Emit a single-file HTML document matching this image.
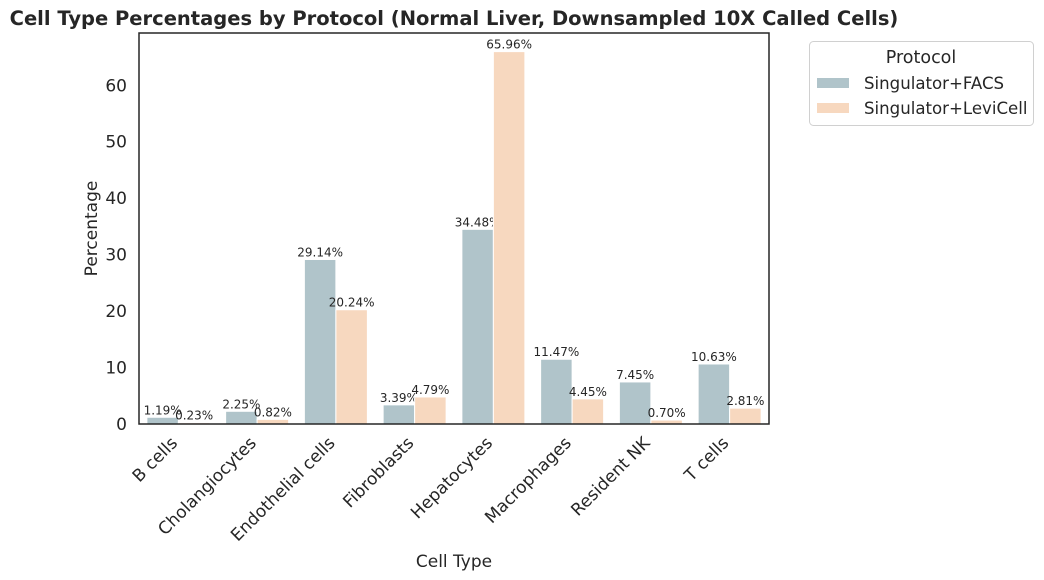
<!DOCTYPE html>
<html><head><meta charset="utf-8"><style>
body{margin:0;background:#fff;}
svg{display:block;font-family:"DejaVu Sans","Liberation Sans",sans-serif;}
</style></head><body>
<svg id="chart" width="1044" height="580"></svg>
<script>
const categories=["B cells","Cholangiocytes","Endothelial cells","Fibroblasts","Hepatocytes","Macrophages","Resident NK","T cells"];
const facsValues=[1.19,2.25,29.14,3.39,34.48,11.47,7.45,10.63];
const leviValues=[0.23,0.82,20.24,4.79,65.96,4.45,0.70,2.81];
const yTicks=[0,10,20,30,40,50,60];
const seriesNames=["Singulator+FACS","Singulator+LeviCell"];
const seriesColors=["#b0c4ca","#f7d8bf"];

const NS="http://www.w3.org/2000/svg";
const svg=document.getElementById('chart');
const L=139,R=769,T=33,B=424;
const yMax=Math.max(...facsValues,...leviValues)*1.05;
const y=v=>B-(v/yMax)*(B-T);
const band=(R-L)/categories.length;
const xc=i=>L+band*(i+0.5);
function mk(tag,attrs,text){const e=document.createElementNS(NS,tag);for(const k in attrs)e.setAttribute(k,attrs[k]);if(text!==undefined)e.textContent=text;svg.appendChild(e);return e;}

const title=mk('text',{x:454,y:25,'text-anchor':'middle','font-size':19.5,'font-weight':'bold',fill:'#262626'},"Cell Type Percentages by Protocol (Normal Liver, Downsampled 10X Called Cells)");



const bw=band*0.4;
[facsValues,leviValues].forEach((vals,s)=>{
  vals.forEach((v,i)=>{
    const x0=xc(i)-bw+s*bw;
    const r=mk('rect',{x:x0,y:y(v),width:bw,height:B-y(v),fill:seriesColors[s],stroke:'#fff','stroke-width':1});
    
    
    const t=mk('text',{x:x0+bw/2,y:y(v)-3,'text-anchor':'middle','font-size':12,fill:'#262626'},v.toFixed(2)+'%');
    
    
  });
});

const frame=mk('rect',{x:L,y:T,width:R-L,height:B-T,fill:'none',stroke:'#262626','stroke-width':1.5});



yTicks.forEach(v=>{
  const t=mk('text',{x:L-12,y:y(v)+6,'text-anchor':'end','font-size':17,fill:'#262626'},String(v));
  
  
});
categories.forEach((c,i)=>{
  const t=mk('text',{x:0,y:0,'text-anchor':'end','font-size':17,fill:'#262626',transform:`translate(${xc(i)},${B+20}) rotate(-45)`},c);
  
  
});
const xt=mk('text',{x:454,y:567,'text-anchor':'middle','font-size':17,fill:'#262626'},"Cell Type");


const yt=mk('text',{x:0,y:0,'text-anchor':'middle','font-size':17,fill:'#262626',transform:`translate(97,${(T+B)/2}) rotate(-90)`},"Percentage");



const lg=mk('rect',{x:809.5,y:41.5,width:224,height:84,rx:4,fill:'#fff',stroke:'#d0d0d0'});


const lt=mk('text',{x:921,y:63,'text-anchor':'middle','font-size':17.5,fill:'#262626'},"Protocol");


seriesNames.forEach((n,s)=>{
  const r=mk('rect',{x:817,y:78+s*25,width:32,height:10,fill:seriesColors[s]});
  
  
  const t=mk('text',{x:864,y:89+s*25,'font-size':16.6,fill:'#262626'},n);
  
  
});
</script>
</body></html>
